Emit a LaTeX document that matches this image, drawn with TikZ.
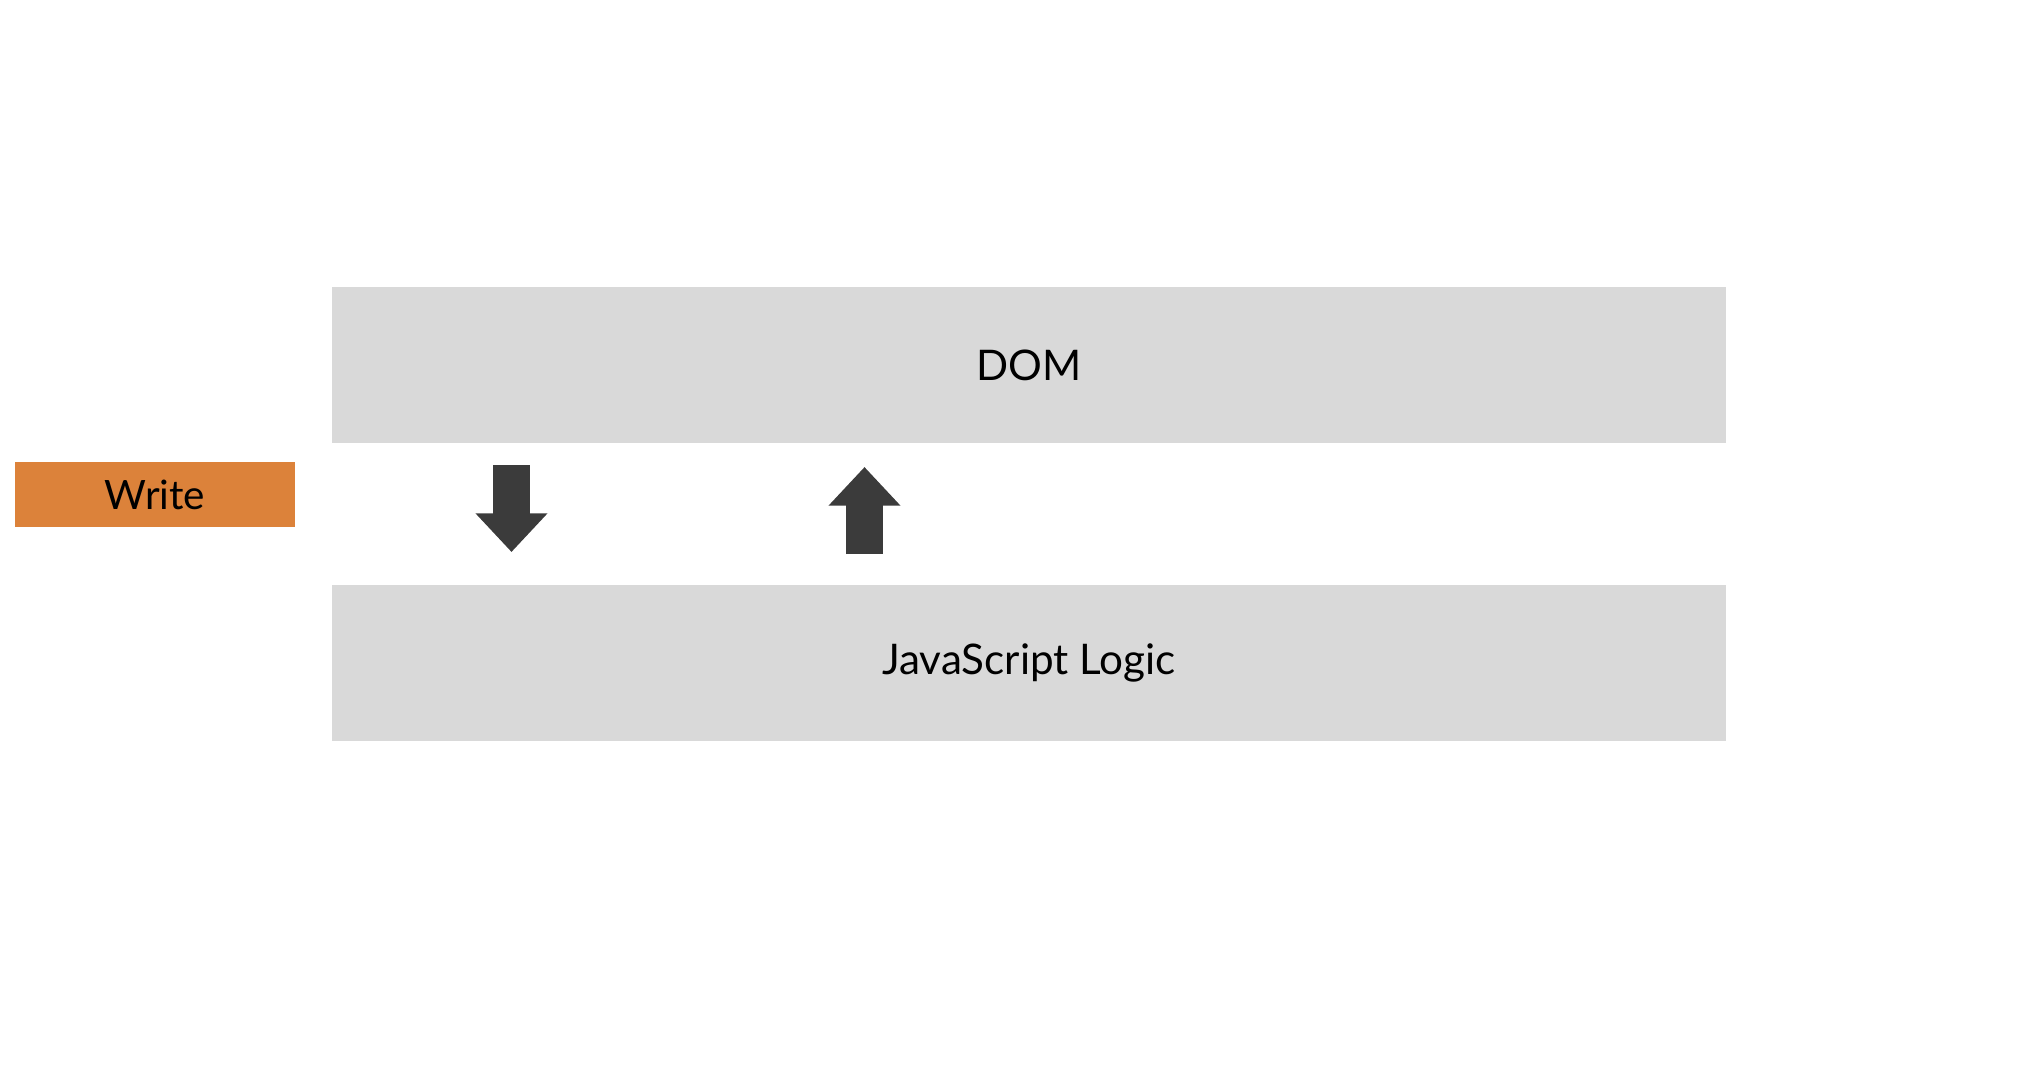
\documentclass[tikz,border=0pt]{standalone}
\usepackage{fontspec}
\setmainfont{Lato}
\usetikzlibrary{arrows.meta,positioning}
\definecolor{boxgray}{HTML}{D9D9D9}
\definecolor{writeorange}{HTML}{DC823A}
\definecolor{arrowgray}{HTML}{3B3B3B}
\tikzset{
  layer/.style={fill=boxgray, minimum width=13.94cm, minimum height=1.555cm, inner sep=0pt,
    font=\fontsize{12}{14}\selectfont},
  tag/.style={fill=writeorange, minimum width=2.79cm, minimum height=.65cm, inner sep=0pt,
    font=\fontsize{11.5}{13}\selectfont},
  blockarrow/.style={draw=arrowgray, line width=10.5pt,
    -{Triangle[width=19.8pt,length=11pt]}}
}
\begin{document}
\begin{tikzpicture}[x=0.01cm,y=-0.01cm]
  \useasboundingbox (0,0) rectangle (2034,1066);
  \node [layer] (dom) at (1029,365) {DOM};
  \node [layer] (js) at (1029,663) {JavaScript Logic};
  \node [tag] (write) at (155,494.5) {Write};
  \coordinate (readtop) at (511.5,465);
  \coordinate (readbot) at (511.5,552);
  \coordinate (uptop) at (864.5,467);
  \coordinate (upbot) at (864.5,554);
  \draw [blockarrow] (readtop) -- (readbot);
  \draw [blockarrow] (upbot) -- (uptop);
\end{tikzpicture}
\end{document}
